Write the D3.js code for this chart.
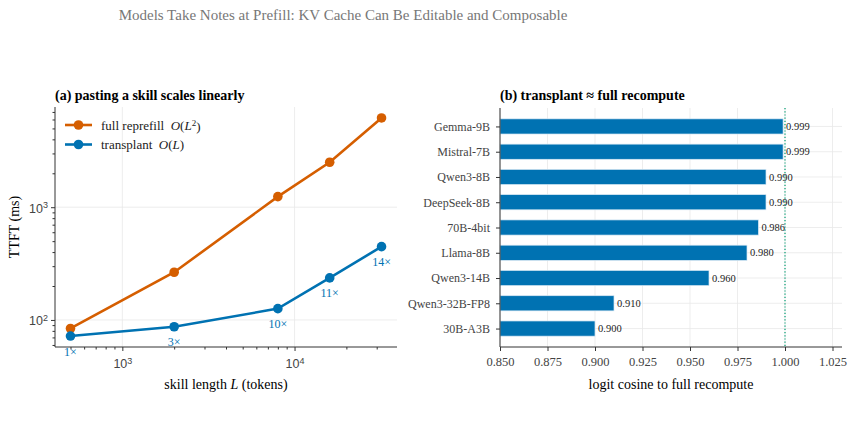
<!DOCTYPE html>
<html>
<head>
<meta charset="utf-8">
<script src="https://cdn.jsdelivr.net/npm/d3@7"></script>
<style>
  body { margin: 0; background: #fff; }
  svg { font-family: "Liberation Serif", "DejaVu Serif", serif; }
</style>
</head>
<body>
<svg id="chart" width="853" height="428"></svg>
<script>
// panel (a): TTFT vs skill length
const skillLengths = [500, 2000, 8000, 16000, 32000]
const reprefillMs = [84, 265, 1242, 2506, 6190]
const transplantMs = [72, 87, 126, 236, 447]
const speedupLabels = ["1×", "3×", "10×", "11×", "14×"]

// panel (b): logit cosine per model
const models = ["Gemma-9B", "Mistral-7B", "Qwen3-8B", "DeepSeek-8B", "70B-4bit", "Llama-8B", "Qwen3-14B", "Qwen3-32B-FP8", "30B-A3B"]
const cosines = [0.999, 0.999, 0.990, 0.990, 0.986, 0.980, 0.960, 0.910, 0.900]
const cosTicks = [0.850, 0.875, 0.900, 0.925, 0.950, 0.975, 1.000, 1.025]

const orange = "#D55E00", blue = "#0072B2", green = "#009E73"
const spine = "#333", tickText = "#444", grid = "#e8e8e8"
const nb = "\u00a0"

const svg = d3.select("#chart")

svg.append("text")
    .attr("x", 343).attr("y", 20)
    .attr("text-anchor", "middle")
    .style("font-size", "15px")
    .attr("fill", "#777")
    .text("Models Take Notes at Prefill: KV Cache Can Be Editable and Composable")

function powLabel(sel, base, exp) {
    sel.text(null)
    sel.append("tspan").text(base)
    sel.append("tspan").attr("dy", "-0.5em").style("font-size", "9px").text(exp)
}

// ---------- panel (a) ----------
const a = {left: 55, right: 397, top: 107, bottom: 347}
const lx = d3.scaleLog().domain([Math.pow(10, 2.609), Math.pow(10, 4.595)]).range([a.left, a.right])
const ly = d3.scaleLog().domain([Math.pow(10, 1.76), Math.pow(10, 3.889)]).range([a.bottom, a.top])

const ga = svg.append("g")

// grid at major ticks
ga.selectAll(".gx").data([1e3, 1e4]).enter().append("line")
    .attr("x1", d => lx(d)).attr("x2", d => lx(d))
    .attr("y1", a.top).attr("y2", a.bottom)
    .attr("stroke", grid).attr("stroke-width", 0.8)
ga.selectAll(".gy").data([1e2, 1e3]).enter().append("line")
    .attr("x1", a.left).attr("x2", a.right)
    .attr("y1", d => ly(d)).attr("y2", d => ly(d))
    .attr("stroke", grid).attr("stroke-width", 0.8)

const xAxisA = d3.axisBottom(lx).tickSize(4)
    .tickValues(lx.ticks()).tickFormat(() => "")
const gxa = ga.append("g").attr("transform", "translate(0," + a.bottom + ")").call(xAxisA)
gxa.select(".domain").attr("d", "M" + a.left + ",0H" + a.right)
gxa.selectAll(".tick line").attr("stroke", spine)
    .attr("y2", d => Math.log10(d) % 1 === 0 ? 4 : 2.5)
gxa.selectAll(".tick").filter(d => Math.log10(d) % 1 === 0).append("text")
    .attr("y", 21).attr("text-anchor", "middle")
    .attr("fill", tickText).style("font-size", "12.5px")
    .each(function(d) { powLabel(d3.select(this), "10", Math.round(Math.log10(d))) })

const yAxisA = d3.axisLeft(ly).tickSize(4)
    .tickValues(ly.ticks()).tickFormat(() => "")
const gya = ga.append("g").attr("transform", "translate(" + a.left + ",0)").call(yAxisA)
gya.select(".domain").attr("d", "M0," + a.top + "V" + a.bottom)
gya.selectAll(".tick line").attr("stroke", spine)
    .attr("x2", d => Math.log10(d) % 1 === 0 ? -4 : -2.5)
gya.selectAll(".tick").filter(d => Math.log10(d) % 1 === 0).append("text")
    .attr("x", -7).attr("dy", "0.4em").attr("text-anchor", "end")
    .attr("fill", tickText).style("font-size", "12.5px")
    .each(function(d) { powLabel(d3.select(this), "10", Math.round(Math.log10(d))) })
ga.selectAll(".domain").attr("stroke", spine).attr("stroke-width", 1)

const seriesA = [
    {name: "reprefill", color: orange, values: reprefillMs},
    {name: "transplant", color: blue, values: transplantMs}
]
const lineA = d3.line().x(d => lx(d[0])).y(d => ly(d[1]))
seriesA.forEach(s => {
    const pts = skillLengths.map((L, i) => [L, s.values[i]])
    ga.append("path").datum(pts)
        .attr("d", lineA).attr("fill", "none")
        .attr("stroke", s.color).attr("stroke-width", 2.6)
    ga.selectAll(null).data(pts).enter().append("circle")
        .attr("cx", d => lx(d[0])).attr("cy", d => ly(d[1]))
        .attr("r", 4.8).attr("fill", s.color)
})

ga.selectAll(".spd").data(skillLengths).enter().append("text")
    .attr("x", d => lx(d)).attr("y", (d, i) => ly(transplantMs[i]) + 19.5)
    .attr("text-anchor", "middle")
    .attr("fill", blue).style("font-size", "12px")
    .text((d, i) => speedupLabels[i])

ga.append("text").attr("x", a.left).attr("y", 100)
    .style("font-size", "14px").style("font-weight", "bold")
    .text("(a) pasting a skill scales linearly")

ga.append("text")
    .attr("transform", "translate(19," + ((a.top + a.bottom) / 2) + ") rotate(-90)")
    .attr("text-anchor", "middle").style("font-size", "14px")
    .text("TTFT (ms)")

const xl = ga.append("text").attr("x", (a.left + a.right) / 2).attr("y", 389)
    .attr("text-anchor", "middle").style("font-size", "14px")
xl.append("tspan").text("skill length ")
xl.append("tspan").style("font-style", "italic").text("L")
xl.append("tspan").text(" (tokens)")

// legend
const legend = [
    {color: orange, parts: [["full reprefill" + nb + nb, ""], ["O", "i"], ["(", ""], ["L", "i"], ["2", "sup"], [")", ""]]},
    {color: blue, parts: [["transplant" + nb + nb, ""], ["O", "i"], ["(", ""], ["L", "i"], [")", ""]]}
]
legend.forEach((item, i) => {
    const y = 125 + i * 19.5
    ga.append("line").attr("x1", 65).attr("x2", 92).attr("y1", y).attr("y2", y)
        .attr("stroke", item.color).attr("stroke-width", 2.6)
    ga.append("circle").attr("cx", 78.5).attr("cy", y).attr("r", 4.8).attr("fill", item.color)
    const t = ga.append("text").attr("x", 101).attr("y", y).attr("dy", "0.35em")
        .style("font-size", "13px").attr("fill", "#222")
    let raised = false
    item.parts.forEach(p => {
        const ts = t.append("tspan").text(p[0])
        if (p[1] === "i") ts.style("font-style", "italic")
        if (p[1] === "sup") { ts.attr("dy", "-0.45em").style("font-size", "9px"); raised = true }
        else if (raised) { ts.attr("dy", "0.45em"); raised = false }
    })
})

// ---------- panel (b) ----------
const b = {left: 500, right: 842, top: 108, bottom: 347}
const bx = d3.scaleLinear().domain([0.85, 1.03]).range([b.left, b.right])
const by = d3.scaleLinear().domain([-0.73, models.length - 1 + 0.73]).range([b.top, b.bottom])
const barH = by(0.3) - by(-0.3)

const gb = svg.append("g")

gb.selectAll(".gvx").data(cosTicks).enter().append("line")
    .attr("x1", d => bx(d)).attr("x2", d => bx(d))
    .attr("y1", b.top).attr("y2", b.bottom)
    .attr("stroke", grid).attr("stroke-width", 0.8)
gb.selectAll(".gvy").data(models).enter().append("line")
    .attr("x1", b.left).attr("x2", b.right)
    .attr("y1", (d, i) => by(i)).attr("y2", (d, i) => by(i))
    .attr("stroke", grid).attr("stroke-width", 0.8)

gb.selectAll(".bar").data(cosines).enter().append("rect")
    .attr("x", bx(0.85)).attr("y", (d, i) => by(i) - barH / 2)
    .attr("width", d => bx(d) - bx(0.85)).attr("height", barH)
    .attr("fill", blue).attr("stroke", "#d8e8f4").attr("stroke-width", 0.7)

gb.selectAll(".val").data(cosines).enter().append("text")
    .attr("x", d => bx(d) + 3).attr("y", (d, i) => by(i)).attr("dy", "0.35em")
    .style("font-size", "10.5px").attr("fill", "#222")
    .text(d => d3.format(".3f")(d))

gb.append("line")
    .attr("x1", bx(1.0)).attr("x2", bx(1.0)).attr("y1", b.top).attr("y2", b.bottom)
    .attr("stroke", green).attr("stroke-width", 1.2).attr("stroke-dasharray", "1.2,2")

const gxb = gb.append("g").attr("transform", "translate(0," + b.bottom + ")")
    .call(d3.axisBottom(bx).tickValues(cosTicks).tickSize(4).tickPadding(6).tickFormat(d3.format(".3f")))
gxb.select(".domain").attr("d", "M" + b.left + ",0H" + b.right)
gxb.selectAll(".tick text").attr("fill", tickText).style("font-size", "12.5px")
    .style("font-family", "Liberation Serif, serif")

const gyb = gb.append("g").attr("transform", "translate(" + b.left + ",0)")
    .call(d3.axisLeft(by).tickValues(d3.range(models.length)).tickSize(4).tickPadding(6)
        .tickFormat(i => models[i]))
gyb.select(".domain").attr("d", "M0," + b.top + "V" + b.bottom)
gyb.selectAll(".tick text").attr("fill", tickText).style("font-size", "12px")
    .style("font-family", "Liberation Serif, serif")
gb.selectAll(".domain").attr("stroke", spine).attr("stroke-width", 1)
gb.selectAll(".tick line").attr("stroke", spine)

gb.append("text").attr("x", b.left).attr("y", 100)
    .style("font-size", "14px").style("font-weight", "bold")
    .text("(b) transplant" + nb + "≈" + nb + "full recompute")

gb.append("text").attr("x", (b.left + b.right) / 2).attr("y", 389)
    .attr("text-anchor", "middle").style("font-size", "14px")
    .text("logit cosine to full recompute")
</script>
</body>
</html>
